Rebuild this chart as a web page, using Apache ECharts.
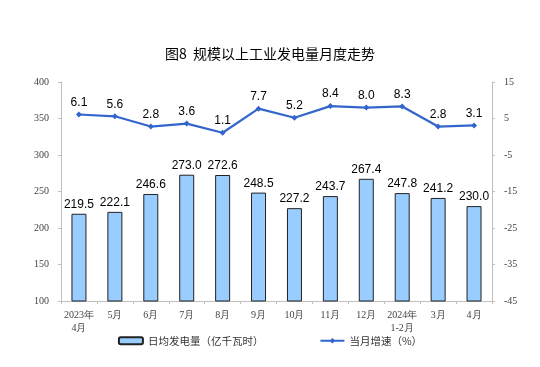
<!DOCTYPE html>
<html><head><meta charset="utf-8">
<script src="https://cdn.jsdelivr.net/npm/echarts@6/dist/echarts.min.js"></script>
<style>html,body{margin:0;padding:0;background:#fff}#c{width:540px;height:367px}</style>
</head><body><div id="c"></div>
<script>
const categories = ['2023年\n4月','5月','6月','7月','8月','9月','10月','11月','12月','2024年\n1-2月','3月','4月'];
const dailyOutput = [219.5,222.1,246.6,273.0,272.6,248.5,227.2,243.7,267.4,247.8,241.2,230.0];
const growth = [6.1,5.6,2.8,3.6,1.1,7.7,5.2,8.4,8.0,8.3,2.8,3.1];
const titleText = '图8  规模以上工业发电量月度走势';
const barName = '日均发电量（亿千瓦时）';
const lineName = '当月增速（%）';

const chart = echarts.init(document.getElementById('c'));
const serif = '"Liberation Serif","Times New Roman",serif';
const cjk = '"Noto Sans CJK SC","Liberation Sans",sans-serif';
chart.setOption({
  animation: false,
  title: {text: titleText, left: 'center', top: 42, textStyle: {fontFamily: cjk, fontSize: 14, fontWeight: 'normal', color: '#000'}},
  legend: {
    bottom: 16, left: 'center', itemGap: 56, itemWidth: 24, itemHeight: 7,
    textStyle: {fontFamily: cjk, fontSize: 10.5, color: '#333'},
    data: [{name: barName, icon: 'roundRect'}, {name: lineName}]
  },
  grid: {left: 61, right: 48, top: 82, bottom: 66},
  xAxis: {
    type: 'category', data: categories,
    axisLine: {onZero: false, lineStyle: {color: '#bfbfbf'}},
    axisTick: {show: true, length: 3, lineStyle: {color: '#bfbfbf'}},
    axisLabel: {fontFamily: serif, fontSize: 10, color: '#444', lineHeight: 13, interval: 0}
  },
  yAxis: [
    {type: 'value', min: 100, max: 400, interval: 50,
     axisLine: {show: true, lineStyle: {color: '#bfbfbf'}},
     axisTick: {show: true, length: 3, lineStyle: {color: '#bfbfbf'}},
     splitLine: {show: false},
     axisLabel: {fontFamily: serif, fontSize: 10, color: '#444', margin: 12}},
    {type: 'value', min: -45, max: 15, interval: 10,
     axisLine: {show: true, onZero: false, lineStyle: {color: '#bfbfbf'}},
     axisTick: {show: true, length: 3, lineStyle: {color: '#bfbfbf'}},
     splitLine: {show: false},
     axisLabel: {fontFamily: serif, fontSize: 10, color: '#444', margin: 12}}
  ],
  series: [
    {name: barName, type: 'bar', data: dailyOutput, barWidth: 15,
     itemStyle: {color: '#99ccff', borderColor: '#222', borderWidth: 1},
     label: {show: true, position: 'top', distance: 3, fontFamily: '"Liberation Sans",Arial,sans-serif', fontSize: 12, color: '#000',
       formatter: p => p.value.toFixed(1)}},
    {name: lineName, type: 'line', yAxisIndex: 1, data: growth,
     symbol: 'diamond', symbolSize: 6,
     lineStyle: {color: '#3366cc', width: 2.2},
     itemStyle: {color: '#3366cc'},
     label: {show: true, position: 'top', distance: 3, fontFamily: '"Liberation Sans",Arial,sans-serif', fontSize: 12, color: '#000',
       formatter: p => p.value.toFixed(1)}}
  ]
});
</script></body></html>
